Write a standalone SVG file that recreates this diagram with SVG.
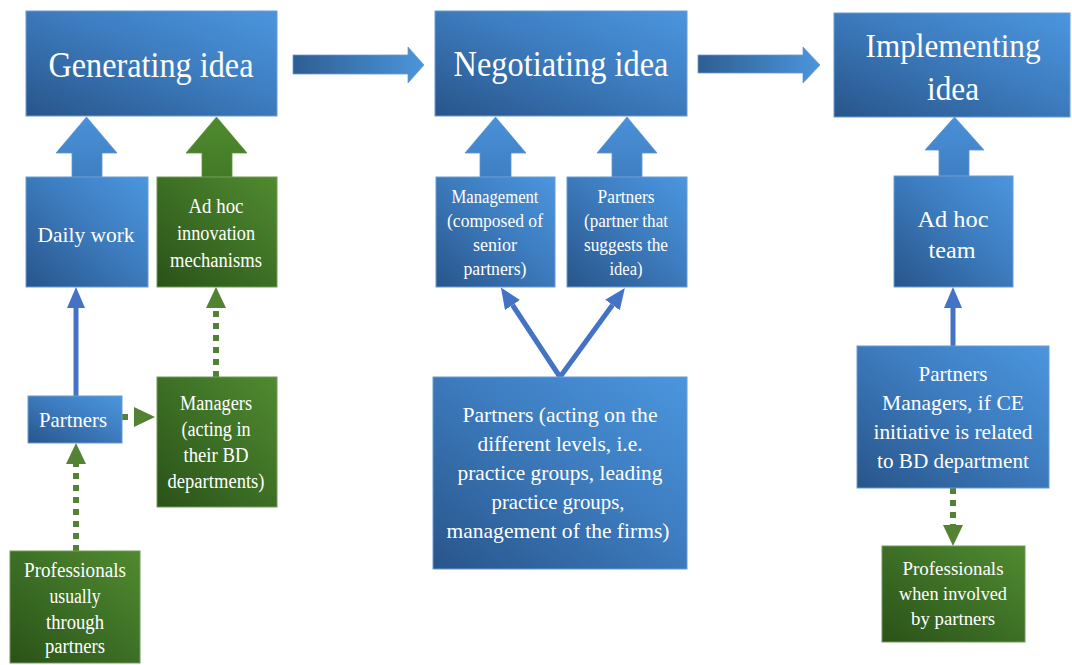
<svg xmlns="http://www.w3.org/2000/svg" width="1072" height="665" viewBox="0 0 1072 665" font-family="'Liberation Serif', 'DejaVu Serif', serif">
<defs>
<linearGradient id="gb" x1="0" y1="1" x2="1" y2="0">
<stop offset="0" stop-color="#28558a"/>
<stop offset="0.55" stop-color="#3d7cbf"/>
<stop offset="1" stop-color="#4b96de"/>
</linearGradient>
<linearGradient id="gg" x1="0" y1="1" x2="1" y2="0">
<stop offset="0" stop-color="#2a5218"/>
<stop offset="0.55" stop-color="#3e7226"/>
<stop offset="1" stop-color="#518a30"/>
</linearGradient>
<linearGradient id="gh" x1="0" y1="0" x2="1" y2="0">
<stop offset="0" stop-color="#2e5e92"/>
<stop offset="1" stop-color="#4b95dc"/>
</linearGradient>
<linearGradient id="gub" x1="0" y1="0" x2="0" y2="1">
<stop offset="0" stop-color="#4a90d8"/>
<stop offset="1" stop-color="#3f7fc2"/>
</linearGradient>
<linearGradient id="gug" x1="0" y1="0" x2="0" y2="1">
<stop offset="0" stop-color="#4f8a2f"/>
<stop offset="1" stop-color="#427a26"/>
</linearGradient>
<marker id="mb" markerUnits="userSpaceOnUse" markerWidth="22" markerHeight="18" refX="0" refY="9" orient="auto">
<path d="M0,0 L21,9 L0,18 z" fill="#4472c4"/>
</marker>
<marker id="mg" markerUnits="userSpaceOnUse" markerWidth="22" markerHeight="20" refX="0" refY="10" orient="auto">
<path d="M0,0 L21,10 L0,20 z" fill="#548235"/>
</marker>
</defs>
<style>
.bb{fill:url(#gb);stroke:#6b9bd0;stroke-width:1}
.gb{fill:url(#gg);stroke:#6f9a58;stroke-width:1}
.t{fill:#ffffff;text-anchor:middle}
.ub{fill:url(#gub);stroke:#5a95d2;stroke-width:0.8}
.ug{fill:url(#gug);stroke:#5f9040;stroke-width:0.8}
.ha{fill:url(#gh);stroke:#6b9bd0;stroke-width:0.8}
.cb{stroke:#4472c4;stroke-width:5;fill:none}
.cg{stroke:#548235;stroke-width:6;stroke-dasharray:6 6;fill:none}
</style>
<rect width="1072" height="665" fill="#ffffff"/>

<g id="connectors">
<polygon class="ha" points="293,55 408,55 408,47 424,65 408,83 408,74 293,74"/>
<polygon class="ha" points="698,55 803,55 803,47 820,65 803,83 803,73 698,73"/>
<polygon class="ub" points="86.5,117 117,153 102,153 102,177 72,177 72,153 56,153"/>
<polygon class="ug" points="216.5,117 247,153 232,153 232,177 202,177 202,153 186,153"/>
<polygon class="ub" points="495.5,117 526,153 511,153 511,177 480,177 480,153 465,153"/>
<polygon class="ub" points="627,117 657,153 642,153 642,177 612,177 612,153 597,153"/>
<polygon class="ub" points="954.5,117 984,150 969,150 969,176 939,176 939,150 925,150"/>
<line class="cb" x1="76" y1="396" x2="76" y2="308" marker-end="url(#mb)"/>
<line class="cb" x1="953" y1="346" x2="953" y2="308" marker-end="url(#mb)"/>
<line class="cb" x1="560" y1="377" x2="512.5" y2="305" marker-end="url(#mb)"/>
<line class="cb" x1="560" y1="377" x2="612.5" y2="305" marker-end="url(#mb)"/>
<line class="cg" x1="216" y1="377" x2="216" y2="308" marker-end="url(#mg)"/>
<line class="cg" x1="76" y1="551" x2="76" y2="464" marker-end="url(#mg)"/>
<line class="cg" x1="122" y1="417" x2="134" y2="417" marker-end="url(#mg)"/>
<line class="cg" x1="953" y1="488" x2="953" y2="525" marker-end="url(#mg)"/>
</g>

<g id="generating">
<rect class="bb" x="26" y="11" width="251" height="105"/>
<text class="t" x="151" y="77" font-size="36" textLength="205" lengthAdjust="spacingAndGlyphs">Generating idea</text>
</g>
<g id="negotiating">
<rect class="bb" x="435" y="11" width="252" height="105"/>
<text class="t" x="561" y="76" font-size="36" textLength="215" lengthAdjust="spacingAndGlyphs">Negotiating idea</text>
</g>
<g id="implementing">
<rect class="bb" x="834" y="13" width="236" height="104"/>
<text class="t" x="953" y="57" font-size="33" textLength="175" lengthAdjust="spacingAndGlyphs">Implementing</text>
<text class="t" x="953" y="100" font-size="33" textLength="52" lengthAdjust="spacingAndGlyphs">idea</text>
</g>
<g id="daily-work">
<rect class="bb" x="26" y="177" width="122" height="110"/>
<text class="t" x="86" y="242" font-size="22" textLength="97" lengthAdjust="spacingAndGlyphs">Daily work</text>
</g>
<g id="adhoc-innovation">
<rect class="gb" x="157" y="177" width="120" height="110"/>
<text class="t" x="216" y="213" font-size="20" textLength="55" lengthAdjust="spacingAndGlyphs">Ad hoc</text>
<text class="t" x="216" y="240" font-size="20" textLength="78" lengthAdjust="spacingAndGlyphs">innovation</text>
<text class="t" x="216" y="267" font-size="20" textLength="92" lengthAdjust="spacingAndGlyphs">mechanisms</text>
</g>
<g id="partners-left">
<rect class="bb" x="28" y="396" width="94" height="47"/>
<text class="t" x="73" y="427" font-size="22" textLength="68" lengthAdjust="spacingAndGlyphs">Partners</text>
</g>
<g id="managers">
<rect class="gb" x="157" y="377" width="120" height="130"/>
<text class="t" x="216" y="410" font-size="20" textLength="72" lengthAdjust="spacingAndGlyphs">Managers</text>
<text class="t" x="216" y="436" font-size="20" textLength="69" lengthAdjust="spacingAndGlyphs">(acting in</text>
<text class="t" x="216" y="462" font-size="20" textLength="65" lengthAdjust="spacingAndGlyphs">their BD</text>
<text class="t" x="216" y="488" font-size="20" textLength="97" lengthAdjust="spacingAndGlyphs">departments)</text>
</g>
<g id="professionals-left">
<rect class="gb" x="10" y="551" width="130" height="112"/>
<text class="t" x="75" y="577" font-size="20" textLength="102" lengthAdjust="spacingAndGlyphs">Professionals</text>
<text class="t" x="75" y="603" font-size="20" textLength="51" lengthAdjust="spacingAndGlyphs">usually</text>
<text class="t" x="75" y="629" font-size="20" textLength="58" lengthAdjust="spacingAndGlyphs">through</text>
<text class="t" x="75" y="653" font-size="20" textLength="60" lengthAdjust="spacingAndGlyphs">partners</text>
</g>
<g id="management">
<rect class="bb" x="436" y="177" width="119" height="110"/>
<text class="t" x="495" y="203" font-size="18" textLength="87" lengthAdjust="spacingAndGlyphs">Management</text>
<text class="t" x="495" y="227" font-size="18" textLength="96" lengthAdjust="spacingAndGlyphs">(composed of</text>
<text class="t" x="495" y="251" font-size="18" textLength="44" lengthAdjust="spacingAndGlyphs">senior</text>
<text class="t" x="495" y="275" font-size="18" textLength="63" lengthAdjust="spacingAndGlyphs">partners)</text>
</g>
<g id="partners-suggests">
<rect class="bb" x="567" y="177" width="120" height="110"/>
<text class="t" x="626" y="203" font-size="18" textLength="57" lengthAdjust="spacingAndGlyphs">Partners</text>
<text class="t" x="626" y="227" font-size="18" textLength="84" lengthAdjust="spacingAndGlyphs">(partner that</text>
<text class="t" x="626" y="251" font-size="18" textLength="84" lengthAdjust="spacingAndGlyphs">suggests the</text>
<text class="t" x="626" y="275" font-size="18" textLength="33" lengthAdjust="spacingAndGlyphs">idea)</text>
</g>
<g id="partners-levels">
<rect class="bb" x="433" y="377" width="254" height="192"/>
<text class="t" x="560" y="422" font-size="22" textLength="195" lengthAdjust="spacingAndGlyphs">Partners (acting on the</text>
<text class="t" x="560" y="451" font-size="22" textLength="165" lengthAdjust="spacingAndGlyphs">different levels, i.e.</text>
<text class="t" x="560" y="480" font-size="22" textLength="205" lengthAdjust="spacingAndGlyphs">practice groups, leading</text>
<text class="t" x="558" y="509" font-size="22" textLength="133" lengthAdjust="spacingAndGlyphs">practice groups,</text>
<text class="t" x="558" y="538" font-size="22" textLength="223" lengthAdjust="spacingAndGlyphs">management  of the firms)</text>
</g>
<g id="adhoc-team">
<rect class="bb" x="894" y="176" width="119" height="111"/>
<text class="t" x="953" y="227" font-size="24" textLength="71" lengthAdjust="spacingAndGlyphs">Ad hoc</text>
<text class="t" x="952" y="258" font-size="24" textLength="47" lengthAdjust="spacingAndGlyphs">team</text>
</g>
<g id="partners-managers">
<rect class="bb" x="857" y="346" width="192" height="142"/>
<text class="t" x="953" y="381" font-size="21" textLength="69" lengthAdjust="spacingAndGlyphs">Partners</text>
<text class="t" x="953" y="410" font-size="21" textLength="142" lengthAdjust="spacingAndGlyphs">Managers,  if CE</text>
<text class="t" x="953" y="439" font-size="21" textLength="159" lengthAdjust="spacingAndGlyphs">initiative is related</text>
<text class="t" x="953" y="468" font-size="21" textLength="152" lengthAdjust="spacingAndGlyphs">to BD department</text>
</g>
<g id="professionals-right">
<rect class="gb" x="882" y="546" width="143" height="96"/>
<text class="t" x="953" y="575" font-size="19" textLength="101" lengthAdjust="spacingAndGlyphs">Professionals</text>
<text class="t" x="953" y="600" font-size="19" textLength="108" lengthAdjust="spacingAndGlyphs">when involved</text>
<text class="t" x="953" y="625" font-size="19" textLength="84" lengthAdjust="spacingAndGlyphs">by partners</text>
</g>
</svg>
